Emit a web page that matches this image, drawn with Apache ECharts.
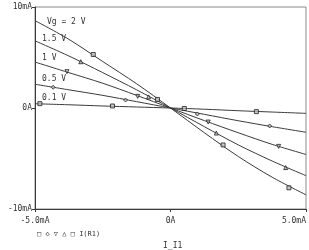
<!DOCTYPE html>
<html>
<head>
<meta charset="utf-8">
<script src="https://cdn.jsdelivr.net/npm/echarts@6/dist/echarts.min.js"></script>
<style>
  html, body { margin: 0; padding: 0; background: #fff; }
  #chart { width: 309px; height: 250px; }
</style>
</head>
<body>
<div id="chart"></div>
<script>
// sweep of I_I1 (mA)
const xs = [-5, -3.75, -2.5, -1.25, 0, 1.25, 2.5, 3.75, 5]

// I(R1) in mA, one array per Vg
const vg01 = [0.42, 0.32, 0.2, 0.1, 0, -0.12, -0.27, -0.4, -0.53]
const vg05 = [2.35, 1.8, 1.25, 0.63, 0, -0.63, -1.26, -1.85, -2.4]
const vg1 = [4.55, 3.5, 2.45, 1.25, 0, -1.25, -2.45, -3.6, -4.6]
const vg15 = [6.65, 5.15, 3.5, 1.8, 0, -1.85, -3.65, -5.25, -6.7]
const vg2 = [8.65, 6.8, 4.6, 2.4, 0, -2.45, -4.8, -6.85, -8.6]

// trace markers [x, y]
const mk01 = [[-4.82, 0.43], [-2.14, 0.2], [0.51, -0.05], [3.17, -0.36]]
const mk05 = [[-4.33, 2.05], [-1.66, 0.79], [0.99, -0.59], [3.66, -1.78]]
const mk1 = [[-3.82, 3.6], [-1.21, 1.15], [1.39, -1.39], [3.99, -3.8]]
const mk15 = [[-3.31, 4.58], [-0.81, 1.1], [1.69, -2.48], [4.25, -5.9]]
const mk2 = [[-2.85, 5.3], [-0.48, 0.85], [1.94, -3.66], [4.37, -7.9]]

const curveNames = ['0.1 V', '0.5 V', '1 V', '1.5 V', 'Vg = 2 V']
const xTicks = { '-5': '-5.0mA', '0': '0A', '5': '5.0mA' }
const yTicks = { '-10': '-10mA', '0': '0A', '10': '10mA' }

const lineColor = '#3a3a3a'
const font = 'DejaVu Sans Mono'

function pairs(ys) {
  return xs.map((x, i) => [x, ys[i]])
}

const curves = [vg01, vg05, vg1, vg15, vg2]
const marks = [mk01, mk05, mk1, mk15, mk2]
const shapes = [
  { symbol: 'rect', rotate: 0, size: 4 },
  { symbol: 'diamond', rotate: 0, size: 4 },
  { symbol: 'triangle', rotate: 180, size: 4 },
  { symbol: 'triangle', rotate: 0, size: 4 },
  { symbol: 'rect', rotate: 0, size: 4 }
]

const series = []
curves.forEach((ys, i) => {
  series.push({
    name: curveNames[i],
    type: 'line',
    data: pairs(ys),
    symbol: 'none',
    smooth: 0.3,
    lineStyle: { color: lineColor, width: 1 },
    silent: true
  })
  series.push({
    type: 'scatter',
    data: marks[i],
    symbol: shapes[i].symbol,
    symbolRotate: shapes[i].rotate,
    symbolSize: shapes[i].size,
    itemStyle: { color: '#bbb', borderColor: '#222', borderWidth: 1 },
    z: 3
  })
})

const labelPos = [[42, 99], [42, 80], [42, 59], [42, 40], [47, 23]]

const chart = echarts.init(document.getElementById('chart'), null, { renderer: 'canvas' })
chart.setOption({
  animation: false,
  grid: {
    left: 35, right: 2, top: 7, bottom: 41,
    show: true,
    borderColor: '#8a8a8a',
    borderWidth: 1
  },
  xAxis: {
    type: 'value',
    min: -5, max: 5, interval: 5,
    axisLine: { onZero: false, lineStyle: { color: lineColor } },
    axisTick: { length: 3, lineStyle: { color: lineColor } },
    splitLine: { show: false },
    axisLabel: {
      color: '#333', fontFamily: font, fontSize: 8, margin: 8,
      alignMaxLabel: 'right',
      formatter: v => xTicks[String(v)]
    }
  },
  yAxis: {
    type: 'value',
    min: -10, max: 10, interval: 10,
    axisLine: { show: true, onZero: false, lineStyle: { color: lineColor } },
    axisTick: { show: true, length: 3, lineStyle: { color: lineColor } },
    splitLine: { show: false },
    axisLabel: {
      color: '#333', fontFamily: font, fontSize: 8, margin: 3,
      formatter: v => yTicks[String(v)]
    }
  },
  graphic: labelPos.map((p, i) => ({
    type: 'text',
    left: p[0], top: p[1] - 5,
    style: { text: curveNames[i], fill: '#333', font: '8px ' + font }
  })).concat([
    {
      type: 'text', left: 37, top: 231,
      style: { text: '\u25a1 \u25c7 \u25bd \u25b3 \u25a1 I(R1)', fill: '#333', font: '7px ' + font }
    },
    {
      type: 'text', left: 163, top: 242,
      style: { text: 'I_I1', fill: '#333', font: '8px ' + font }
    }
  ]),
  series: series
})
</script>
</body>
</html>
